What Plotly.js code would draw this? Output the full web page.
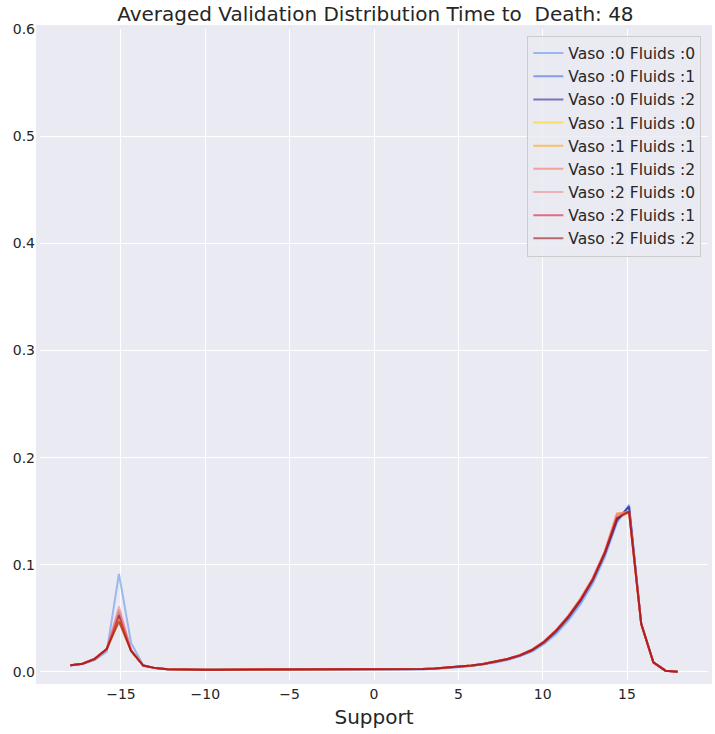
<!DOCTYPE html>
<html>
<head>
<meta charset="utf-8">
<script src="https://cdn.plot.ly/plotly-3.0.1.min.js"></script>
<style>
  html, body { margin: 0; padding: 0; background: #ffffff; }
  #chart { width: 715px; height: 734px; }
</style>
</head>
<body>
<div id="chart"></div>
<script>
// Support atoms (x values)
const support = [-18, -17.28, -16.56, -15.84, -15.12, -14.4, -13.68, -12.96, -12.24, -11.52,
  -10.8, -10.08, -9.36, -8.64, -7.92, -7.2, -6.48, -5.76, -5.04, -4.32,
  -3.6, -2.88, -2.16, -1.44, -0.72, 0, 0.72, 1.44, 2.16, 2.88,
  3.6, 4.32, 5.04, 5.76, 6.48, 7.2, 7.92, 8.64, 9.36, 10.08,
  10.8, 11.52, 12.24, 12.96, 13.68, 14.4, 15.12, 15.84, 16.56, 17.28, 18];

// Averaged probabilities, one array per action
const v0f0 = [0.0060, 0.0074, 0.0110, 0.0190, 0.0915, 0.0270, 0.0062, 0.0036, 0.0026, 0.0023,
  0.0022, 0.0021, 0.0021, 0.0021, 0.0021, 0.0022, 0.0022, 0.0023, 0.0023, 0.0023,
  0.0023, 0.0023, 0.0022, 0.0022, 0.0021, 0.0020, 0.0020, 0.0020, 0.0022, 0.0025,
  0.0030, 0.0036, 0.0044, 0.0055, 0.0069, 0.0088, 0.0112, 0.0145, 0.0190, 0.0260,
  0.0355, 0.0480, 0.0630, 0.0820, 0.1070, 0.1390, 0.1560, 0.0450, 0.0090, 0.0012, 0.0003];
const v0f1 = [0.0061, 0.0076, 0.0120, 0.0212, 0.0560, 0.0200, 0.0060, 0.0036, 0.0026, 0.0023,
  0.0022, 0.0021, 0.0021, 0.0021, 0.0021, 0.0022, 0.0022, 0.0023, 0.0023, 0.0023,
  0.0023, 0.0023, 0.0022, 0.0022, 0.0021, 0.0020, 0.0020, 0.0021, 0.0023, 0.0026,
  0.0031, 0.0038, 0.0046, 0.0058, 0.0072, 0.0092, 0.0117, 0.0150, 0.0198, 0.0272,
  0.0372, 0.0500, 0.0655, 0.0845, 0.1095, 0.1410, 0.1550, 0.0452, 0.0090, 0.0012, 0.0003];
const v0f2 = [0.0062, 0.0077, 0.0121, 0.0213, 0.0530, 0.0198, 0.0060, 0.0036, 0.0026, 0.0023,
  0.0022, 0.0021, 0.0021, 0.0021, 0.0021, 0.0022, 0.0022, 0.0023, 0.0023, 0.0023,
  0.0023, 0.0023, 0.0022, 0.0022, 0.0021, 0.0020, 0.0020, 0.0021, 0.0023, 0.0027,
  0.0032, 0.0039, 0.0047, 0.0059, 0.0074, 0.0094, 0.0120, 0.0154, 0.0203, 0.0278,
  0.0380, 0.0510, 0.0665, 0.0855, 0.1105, 0.1420, 0.1540, 0.0452, 0.0090, 0.0012, 0.0003];
const v1f0 = [0.0062, 0.0077, 0.0122, 0.0214, 0.0500, 0.0196, 0.0060, 0.0036, 0.0026, 0.0023,
  0.0022, 0.0021, 0.0021, 0.0021, 0.0021, 0.0022, 0.0022, 0.0023, 0.0023, 0.0023,
  0.0023, 0.0023, 0.0022, 0.0022, 0.0021, 0.0020, 0.0020, 0.0021, 0.0023, 0.0027,
  0.0032, 0.0039, 0.0048, 0.0060, 0.0075, 0.0095, 0.0121, 0.0156, 0.0206, 0.0282,
  0.0387, 0.0518, 0.0675, 0.0865, 0.1115, 0.1450, 0.1480, 0.0448, 0.0090, 0.0012, 0.0003];
const v1f1 = [0.0062, 0.0077, 0.0122, 0.0215, 0.0480, 0.0195, 0.0060, 0.0036, 0.0026, 0.0023,
  0.0022, 0.0021, 0.0021, 0.0021, 0.0021, 0.0022, 0.0022, 0.0023, 0.0023, 0.0023,
  0.0023, 0.0023, 0.0022, 0.0022, 0.0021, 0.0020, 0.0020, 0.0021, 0.0023, 0.0027,
  0.0032, 0.0039, 0.0048, 0.0060, 0.0075, 0.0096, 0.0122, 0.0157, 0.0207, 0.0284,
  0.0390, 0.0522, 0.0680, 0.0870, 0.1120, 0.1470, 0.1500, 0.0450, 0.0090, 0.0012, 0.0003];
const v1f2 = [0.0062, 0.0077, 0.0123, 0.0216, 0.0580, 0.0205, 0.0061, 0.0036, 0.0026, 0.0023,
  0.0022, 0.0021, 0.0021, 0.0021, 0.0021, 0.0022, 0.0022, 0.0023, 0.0023, 0.0023,
  0.0023, 0.0023, 0.0022, 0.0022, 0.0021, 0.0020, 0.0020, 0.0021, 0.0023, 0.0027,
  0.0032, 0.0039, 0.0048, 0.0060, 0.0076, 0.0096, 0.0123, 0.0158, 0.0209, 0.0286,
  0.0393, 0.0525, 0.0685, 0.0875, 0.1125, 0.1480, 0.1490, 0.0450, 0.0090, 0.0012, 0.0003];
const v2f0 = [0.0062, 0.0077, 0.0123, 0.0216, 0.0610, 0.0208, 0.0061, 0.0036, 0.0026, 0.0023,
  0.0022, 0.0021, 0.0021, 0.0021, 0.0021, 0.0022, 0.0022, 0.0023, 0.0023, 0.0023,
  0.0023, 0.0023, 0.0022, 0.0022, 0.0021, 0.0020, 0.0020, 0.0021, 0.0023, 0.0027,
  0.0032, 0.0039, 0.0048, 0.0060, 0.0075, 0.0096, 0.0122, 0.0157, 0.0208, 0.0285,
  0.0391, 0.0523, 0.0682, 0.0872, 0.1122, 0.1460, 0.1500, 0.0450, 0.0090, 0.0012, 0.0003];
const v2f1 = [0.0062, 0.0077, 0.0122, 0.0215, 0.0520, 0.0198, 0.0060, 0.0036, 0.0026, 0.0023,
  0.0022, 0.0021, 0.0021, 0.0021, 0.0021, 0.0022, 0.0022, 0.0023, 0.0023, 0.0023,
  0.0023, 0.0023, 0.0022, 0.0022, 0.0021, 0.0020, 0.0020, 0.0021, 0.0023, 0.0027,
  0.0032, 0.0039, 0.0048, 0.0060, 0.0075, 0.0095, 0.0121, 0.0155, 0.0205, 0.0281,
  0.0386, 0.0516, 0.0672, 0.0862, 0.1112, 0.1440, 0.1500, 0.0450, 0.0090, 0.0012, 0.0003];
const v2f2 = [0.0062, 0.0077, 0.0122, 0.0215, 0.0470, 0.0195, 0.0060, 0.0036, 0.0026, 0.0023,
  0.0022, 0.0021, 0.0021, 0.0021, 0.0021, 0.0022, 0.0022, 0.0023, 0.0023, 0.0023,
  0.0023, 0.0023, 0.0022, 0.0022, 0.0021, 0.0020, 0.0020, 0.0021, 0.0023, 0.0027,
  0.0032, 0.0039, 0.0048, 0.0060, 0.0075, 0.0095, 0.0121, 0.0155, 0.0205, 0.0280,
  0.0385, 0.0515, 0.0670, 0.0860, 0.1110, 0.1430, 0.1495, 0.0450, 0.0090, 0.0012, 0.0003];

const names = ['Vaso :0 Fluids :0', 'Vaso :0 Fluids :1', 'Vaso :0 Fluids :2',
  'Vaso :1 Fluids :0', 'Vaso :1 Fluids :1', 'Vaso :1 Fluids :2',
  'Vaso :2 Fluids :0', 'Vaso :2 Fluids :1', 'Vaso :2 Fluids :2'];
const seriesList = [v0f0, v0f1, v0f2, v1f0, v1f1, v1f2, v2f0, v2f1, v2f2];
const colors = ['rgba(100,149,237,0.6)', 'rgba(65,105,225,0.6)', 'rgba(0,0,128,0.5)',
  'rgba(255,215,0,0.6)', 'rgba(255,165,0,0.6)', 'rgba(250,128,114,0.7)',
  'rgba(240,128,128,0.55)', 'rgba(220,20,60,0.6)', 'rgba(139,0,0,0.55)'];

const font = 'DejaVu Sans, sans-serif';

const data = seriesList.map(function (vals, i) {
  return {
    x: support,
    y: vals,
    type: 'scatter',
    mode: 'lines',
    name: names[i],
    line: { color: colors[i], width: 2 }
  };
});

const layout = {
  width: 715,
  height: 734,
  title: {
    text: 'Averaged Validation Distribution Time to  Death: 48',
    font: { family: font, size: 20, color: '#262626' },
    x: 0.525,
    xanchor: 'center',
    y: 0.981,
    yanchor: 'middle'
  },
  xaxis: {
    title: { text: 'Support', font: { family: font, size: 20, color: '#262626' }, standoff: 12 },
    range: [-19.8, 19.8],
    tickvals: [-15, -10, -5, 0, 5, 10, 15],
    tickfont: { family: font, size: 14, color: '#262626' },
    gridcolor: '#ffffff',
    gridwidth: 1,
    zeroline: false,
    showline: false,
    ticks: ''
  },
  yaxis: {
    range: [-0.0075, 0.6],
    tickvals: [0, 0.1, 0.2, 0.3, 0.4, 0.5, 0.6],
    tickformat: '.1f',
    tickfont: { family: font, size: 14, color: '#262626' },
    gridcolor: '#ffffff',
    gridwidth: 1,
    zeroline: false,
    showline: false,
    ticks: ''
  },
  margin: { l: 40, r: 7, t: 29, b: 54, pad: 4 },
  showlegend: true,
  legend: {
    x: 0.99,
    xanchor: 'right',
    y: 0.99,
    yanchor: 'top',
    bgcolor: 'rgba(234,234,242,0.8)',
    bordercolor: '#cccccc',
    borderwidth: 1,
    font: { family: font, size: 15.5, color: '#262626' },
    tracegroupgap: 0
  },
  plot_bgcolor: '#eaeaf2',
  paper_bgcolor: '#ffffff'
};

Plotly.newPlot('chart', data, layout, { displayModeBar: false, staticPlot: true });
</script>
</body>
</html>
